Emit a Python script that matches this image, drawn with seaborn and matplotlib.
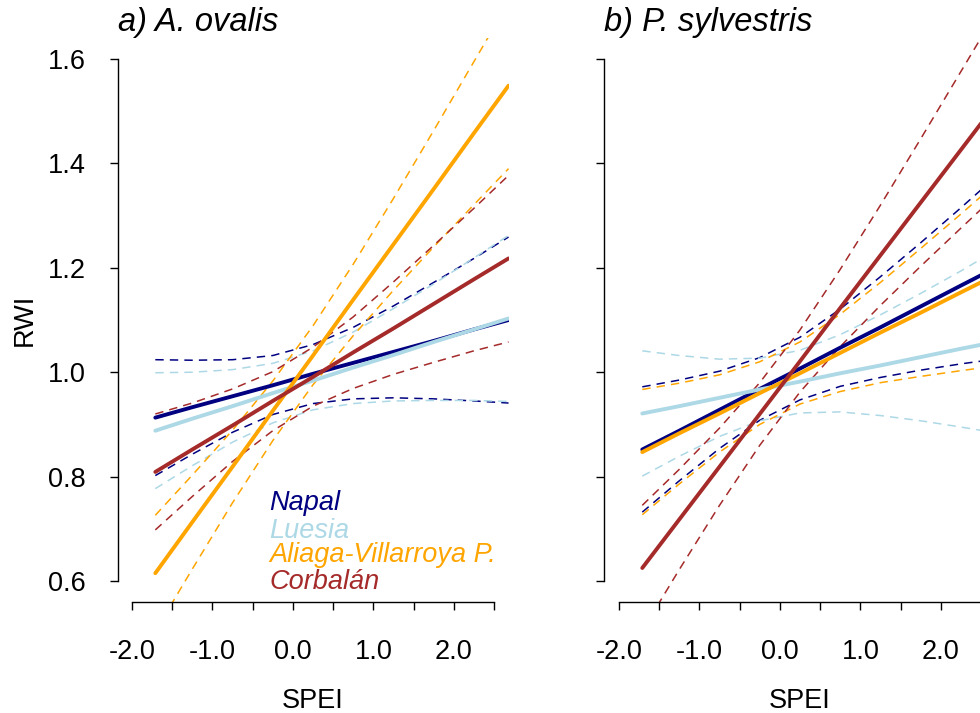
#!/usr/bin/env python3
# -*- coding: utf-8 -*-
"""RWI vs SPEI fits with confidence bands, two species."""

import pandas as pd
import matplotlib
matplotlib.use('Agg')
import matplotlib.pyplot as plt
import seaborn as sns

sites = ['Napal', 'Luesia', 'Aliaga-Villarroya P.', 'Corbalán']
colors = ['#000080', '#ADD8E6', '#FFA500', '#A52A2A']

spei = [-1.71, -1.25, -0.75, -0.25, 0.25, 0.75, 1.25, 1.75, 2.25, 2.68]

# a) A. ovalis
ova_fit = {
    'Napal': [0.913, 0.933, 0.954, 0.975, 0.997, 1.018, 1.039, 1.060, 1.082, 1.100],
    'Luesia': [0.888, 0.911, 0.935, 0.960, 0.984, 1.009, 1.033, 1.058, 1.082, 1.103],
    'Aliaga-Villarroya P.': [0.615, 0.713, 0.819, 0.926, 1.032, 1.139, 1.245, 1.351, 1.458, 1.549],
    'Corbalán': [0.809, 0.852, 0.898, 0.945, 0.991, 1.038, 1.084, 1.131, 1.178, 1.218],
}
ova_upper = {
    'Napal': [1.024, 1.023, 1.024, 1.032, 1.053, 1.086, 1.127, 1.172, 1.218, 1.259],
    'Luesia': [0.999, 1.000, 1.005, 1.017, 1.041, 1.077, 1.122, 1.169, 1.219, 1.262],
    'Aliaga-Villarroya P.': [0.726, 0.803, 0.889, 0.983, 1.089, 1.207, 1.333, 1.463, 1.595, 1.708],
    'Corbalán': [0.920, 0.941, 0.968, 1.001, 1.048, 1.106, 1.173, 1.243, 1.314, 1.377],
}
ova_lower = {
    'Napal': [0.802, 0.843, 0.885, 0.919, 0.940, 0.949, 0.951, 0.949, 0.945, 0.941],
    'Luesia': [0.777, 0.821, 0.866, 0.903, 0.928, 0.940, 0.945, 0.946, 0.946, 0.944],
    'Aliaga-Villarroya P.': [0.504, 0.623, 0.750, 0.869, 0.976, 1.070, 1.157, 1.240, 1.321, 1.390],
    'Corbalán': [0.698, 0.762, 0.829, 0.888, 0.935, 0.969, 0.996, 1.019, 1.041, 1.058],
}

# b) P. sylvestris
syl_fit = {
    'Napal': [0.852, 0.888, 0.928, 0.968, 1.007, 1.047, 1.086, 1.126, 1.166, 1.200],
    'Luesia': [0.921, 0.935, 0.951, 0.967, 0.982, 0.998, 1.013, 1.029, 1.045, 1.058],
    'Aliaga-Villarroya P.': [0.847, 0.883, 0.921, 0.960, 0.998, 1.037, 1.076, 1.114, 1.153, 1.186],
    'Corbalán': [0.625, 0.718, 0.819, 0.920, 1.021, 1.123, 1.224, 1.325, 1.426, 1.513],
}
syl_upper = {
    'Napal': [0.972, 0.985, 1.002, 1.028, 1.067, 1.121, 1.183, 1.248, 1.315, 1.374],
    'Luesia': [1.041, 1.032, 1.025, 1.027, 1.042, 1.072, 1.110, 1.151, 1.194, 1.233],
    'Aliaga-Villarroya P.': [0.967, 0.979, 0.995, 1.020, 1.058, 1.111, 1.172, 1.237, 1.303, 1.361],
    'Corbalán': [0.745, 0.814, 0.893, 0.980, 1.081, 1.197, 1.320, 1.447, 1.576, 1.687],
}
syl_lower = {
    'Napal': [0.732, 0.792, 0.854, 0.908, 0.947, 0.973, 0.990, 1.004, 1.016, 1.025],
    'Luesia': [0.801, 0.839, 0.877, 0.907, 0.922, 0.924, 0.917, 0.907, 0.895, 0.884],
    'Aliaga-Villarroya P.': [0.727, 0.786, 0.847, 0.900, 0.939, 0.963, 0.980, 0.992, 1.003, 1.012],
    'Corbalán': [0.505, 0.622, 0.745, 0.860, 0.962, 1.049, 1.128, 1.203, 1.276, 1.338],
}

xtick_vals = [-2.0, -1.5, -1.0, -0.5, 0.0, 0.5, 1.0, 1.5, 2.0, 2.5]
xtick_labels = ['-2.0', '', '-1.0', '', '0.0', '', '1.0', '', '2.0', '']
ytick_vals = [0.6, 0.8, 1.0, 1.2, 1.4, 1.6]
ytick_labels = ['0.6', '0.8', '1.0', '1.2', '1.4', '1.6']

legend_y = [0.736, 0.683, 0.637, 0.584]


def long_table(fit, upper, lower):
    """Build long-format tables for fits and bands."""
    rows = []
    for s in sites:
        for part, src in (('fit', fit), ('upper', upper), ('lower', lower)):
            for x, y in zip(spei, src[s]):
                rows.append({'spei': x, 'rwi': y, 'site': s, 'part': part})
    df = pd.DataFrame(rows)
    return df[df.part == 'fit'], df[df.part != 'fit']


def panel(ax, fit, upper, lower, title, ylabels):
    fits, bands = long_table(fit, upper, lower)
    pal = dict(zip(sites, colors))
    sns.lineplot(data=bands, x='spei', y='rwi', hue='site', units='part',
                 estimator=None, palette=pal, hue_order=sites, lw=1.1,
                 dashes=(5.5, 4), legend=False, ax=ax)
    sns.lineplot(data=fits, x='spei', y='rwi', hue='site', estimator=None,
                 palette=pal, hue_order=sites, lw=2.8, legend=False, ax=ax)
    ax.set_xlim(-2.18, 2.68)
    ax.set_ylim(0.56, 1.64)
    sns.despine(ax=ax)
    ax.spines['left'].set_bounds(0.6, 1.6)
    ax.spines['bottom'].set_bounds(-2.0, 2.5)
    for sp in ('left', 'bottom'):
        ax.spines[sp].set_linewidth(1.0)
        ax.spines[sp].set_color('black')
    ax.set_xticks(xtick_vals)
    ax.set_xticklabels(xtick_labels)
    ax.set_yticks(ytick_vals)
    ax.set_yticklabels(ytick_labels if ylabels else [])
    ax.tick_params(axis='x', length=5.5, width=1.0, pad=21, labelsize=19.5,
                   colors='black')
    ax.tick_params(axis='y', length=5.8, width=1.0, pad=17, labelsize=19.5,
                   colors='black')
    ax.set_xlabel('SPEI', fontsize=19.5, labelpad=17, color='black')
    ax.set_ylabel('RWI' if ylabels else '', fontsize=19.5, labelpad=7,
                  color='black')
    ax.set_title(title, loc='left', fontstyle='italic', fontsize=23.5, pad=5,
                 color='black')


sns.set_style('ticks')
plt.rcParams['font.family'] = ['Liberation Sans', 'DejaVu Sans']

fig = plt.figure(figsize=(9.8, 7.13), dpi=100)
ax1 = fig.add_axes([0.1199, 0.1558, 0.399, 0.7907])
ax2 = fig.add_axes([0.6168, 0.1558, 0.399, 0.7907])

panel(ax1, ova_fit, ova_upper, ova_lower, 'a) A. ovalis', True)
panel(ax2, syl_fit, syl_upper, syl_lower, 'b) P. sylvestris', False)

for s, c, y in zip(sites, colors, legend_y):
    ax1.text(-0.29, y, s, color=c, fontsize=19.5, fontstyle='italic',
             va='baseline', ha='left')

fig.savefig('out.png', dpi=100)
